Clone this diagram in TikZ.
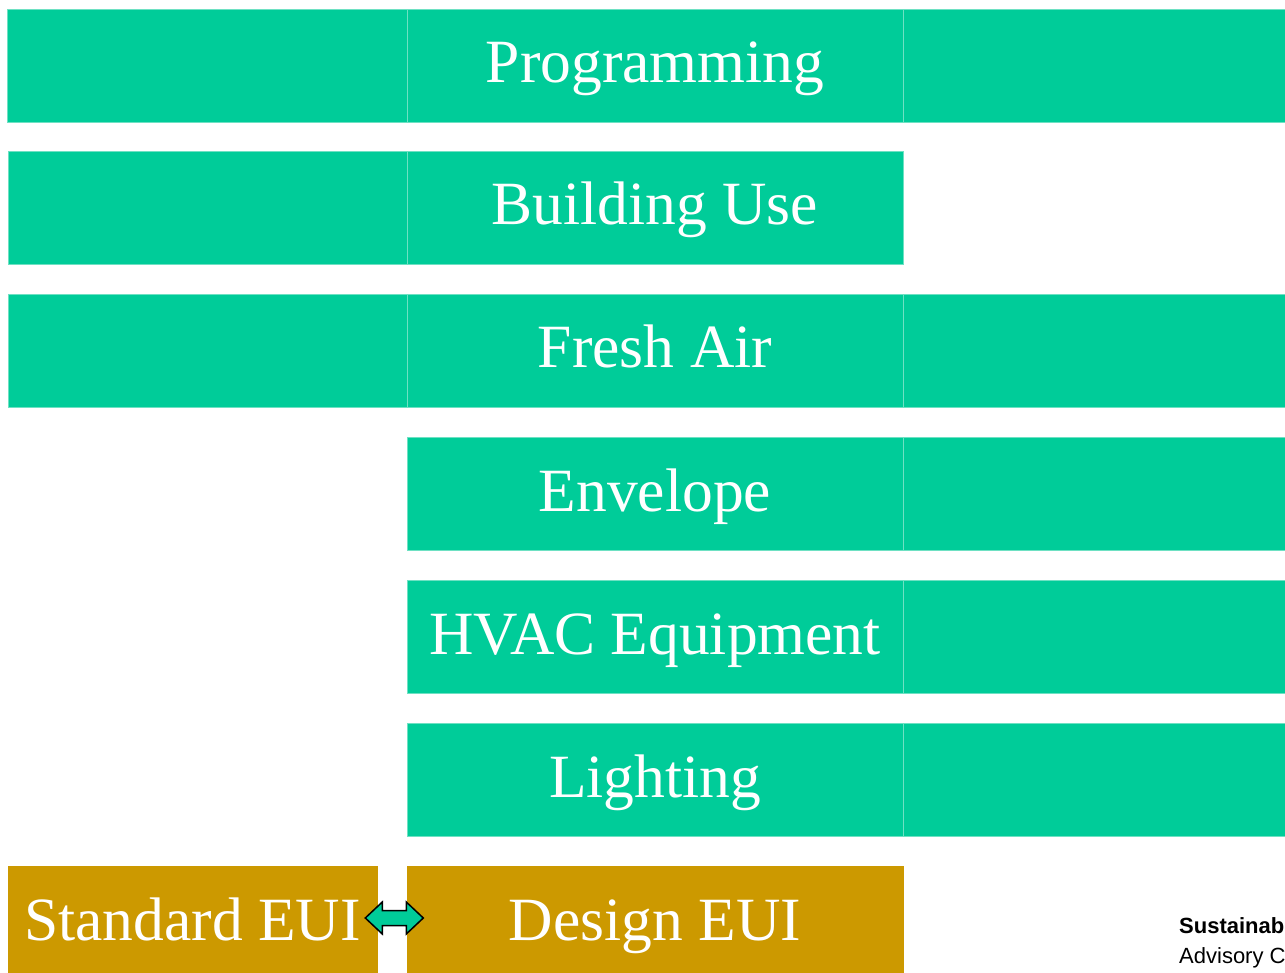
\documentclass[tikz,border=0pt]{standalone}
\usepackage{fontspec}
\setmainfont{Liberation Serif}
\newfontfamily\notefont{Liberation Sans}
\usetikzlibrary{calc}

\definecolor{bargreen}{RGB}{0,204,153}
\definecolor{bargold}{RGB}{204,153,0}
\definecolor{barseam}{RGB}{110,225,195}

\begin{document}
\begin{tikzpicture}[
  x=1pt, y=-1pt,
  bar/.style={
    rectangle,
    fill=bargreen,
    draw=barseam,
    line width=0.6pt,
    inner sep=0pt,
    minimum height=113pt,
    text=white,
    font=\fontsize{61.5}{66}\selectfont,
    text height=35pt,
    text depth=0pt
  },
  side/.style={bar, minimum width=399pt},
  mid/.style={bar, minimum width=496pt},
  rest/.style={bar, minimum width=387pt},
  eui/.style={bar, fill=bargold, draw=bargold},
  link/.style={
    fill=bargreen,
    draw=black,
    line width=1.5pt,
    line join=miter
  }
]
\useasboundingbox (0,0) rectangle (1285,973);
\clip (0,0) rectangle (1285,973);

% programming row
\node[side, minimum width=400pt] (progL) at (207,65.5) {};
\node[rest] (progR) at (1096.5,65.5) {};
\node[mid]  (prog)  at (655,65.5) {Programming};

% building use row
\node[side] (useL) at (207.5,207.5) {};
\node[mid]  (use)  at (655,207.5) {Building Use};

% fresh air row
\node[side] (airL) at (207.5,350.5) {};
\node[rest] (airR) at (1096.5,350.5) {};
\node[mid]  (air)  at (655,350.5) {Fresh Air};

% envelope, hvac, lighting rows
\node[rest] (envR)   at (1096.5,493.5) {};
\node[mid]  (env)    at (655,493.5) {Envelope};
\node[rest] (hvacR)  at (1096.5,636.5) {};
\node[mid]  (hvac)   at (655,636.5) {HVAC Equipment};
\node[rest] (lightR) at (1096.5,779.5) {};
\node[mid]  (light)  at (655,779.5) {Lighting};

% eui row
\node[eui, minimum width=369pt] (std)    at (192.5,922.5) {Standard EUI};
\node[eui, minimum width=496pt] (design) at (655,922.5) {Design EUI};

% double arrow between the two eui boxes
\draw[link] ($(std.east)+(-12,-4.5)$) -- ++(17,-16) -- ++(0,8.5) -- ++(24,0)
  -- ++(0,-8.5) -- ++(17,16) -- ++(-17,16) -- ++(0,-8.5) -- ++(-24,0)
  -- ++(0,8.5) -- cycle;

% footer note
\node[anchor=base west, inner sep=0pt, align=left,
      font=\notefont\fontsize{22}{30}\selectfont] (note) at (1179,963)
  {\textbf{Sustainab}\\Advisory C};

\end{tikzpicture}
\end{document}
